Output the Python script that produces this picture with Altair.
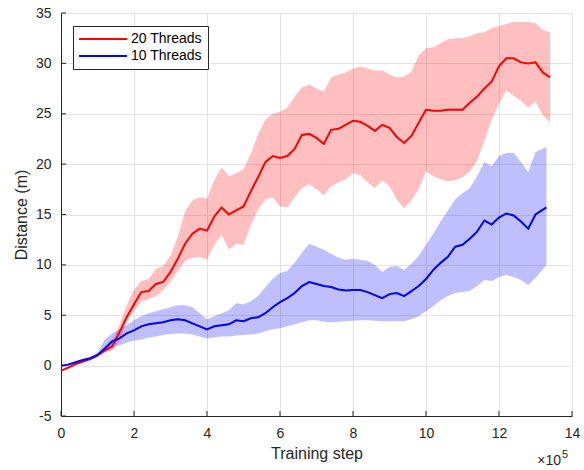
import altair as alt
import pandas as pd

# ---------------- data (x in units of 1e5 training steps) ----------------
steps_red = [0.0, 0.2, 0.4, 0.6, 0.8, 1.0, 1.2, 1.4, 1.6, 1.8,
             2.0, 2.2, 2.4, 2.6, 2.8, 3.0, 3.2, 3.4, 3.6, 3.8,
             4.0, 4.2, 4.4, 4.6, 4.8, 5.0, 5.2, 5.4, 5.6, 5.8,
             6.0, 6.2, 6.4, 6.6, 6.8, 7.0, 7.2, 7.4, 7.6, 7.8,
             8.0, 8.2, 8.4, 8.6, 8.8, 9.0, 9.2, 9.4, 9.6, 9.8,
             10.0, 10.2, 10.4, 10.6, 10.8, 11.0, 11.2, 11.4, 11.6, 11.8,
             12.0, 12.2, 12.4, 12.6, 12.8, 13.0, 13.2, 13.4]
red_mean = [-0.5, -0.2, 0.15, 0.4, 0.65, 1.0, 1.5, 1.9, 3.3, 4.8,
            6.1, 7.3, 7.4, 8.1, 8.3, 9.3, 10.6, 12.1, 13.1, 13.6,
            13.4, 14.8, 15.7, 15.0, 15.4, 15.8, 17.3, 18.7, 20.2, 20.8,
            20.6, 20.8, 21.5, 22.9, 23.0, 22.6, 22.0, 23.4, 23.5, 23.9,
            24.3, 24.2, 23.8, 23.3, 23.9, 23.6, 22.7, 22.1, 22.8, 24.1,
            25.4, 25.3, 25.3, 25.4, 25.4, 25.4, 26.1, 26.7, 27.5, 28.2,
            29.7, 30.5, 30.5, 30.1, 30.0, 30.1, 29.1, 28.6]
red_lo = [-0.6, -0.3, 0.05, 0.3, 0.55, 0.9, 1.3, 1.5, 2.5, 4.3,
          5.4, 6.4, 6.6, 6.9, 7.5, 8.3, 9.4, 10.4, 10.7, 10.8,
          10.5, 12.0, 13.0, 11.5, 12.1, 12.0, 13.9, 15.5, 16.5, 16.7,
          15.8, 15.7, 16.7, 17.6, 18.0, 17.5, 16.9, 17.8, 18.2, 18.5,
          19.1, 18.9, 18.2, 17.6, 18.4, 17.8, 16.5, 15.6, 16.4, 17.5,
          19.3, 18.8, 18.5, 18.3, 18.4, 18.7, 19.3, 20.3, 22.3, 24.4,
          26.0, 27.3, 26.8, 26.3, 25.6, 26.2, 24.9, 24.1]
red_hi = [-0.4, -0.1, 0.25, 0.5, 0.75, 1.1, 1.7, 2.4, 4.0, 6.0,
          7.5, 8.4, 8.6, 9.6, 9.9, 10.9, 12.8, 15.3, 16.4, 16.7,
          16.6, 18.4, 19.7, 18.8, 19.1, 19.5, 21.0, 23.0, 24.4, 25.0,
          25.2, 25.6, 26.7, 27.6, 27.9, 27.5, 27.2, 28.6, 28.9, 29.1,
          29.5, 29.7, 29.5, 29.3, 29.3, 28.9, 28.6, 28.7, 29.2, 30.8,
          31.5, 31.6, 32.0, 32.4, 32.5, 32.5, 32.7, 33.0, 33.1, 33.5,
          33.7, 33.9, 34.1, 34.1, 34.1, 34.0, 33.3, 33.1]

steps_blue = [0.0, 0.2, 0.4, 0.6, 0.8, 1.0, 1.2, 1.4, 1.6, 1.8,
              2.0, 2.2, 2.4, 2.6, 2.8, 3.0, 3.2, 3.4, 3.6, 3.8,
              4.0, 4.2, 4.4, 4.6, 4.8, 5.0, 5.2, 5.4, 5.6, 5.8,
              6.0, 6.2, 6.4, 6.6, 6.8, 7.0, 7.2, 7.4, 7.6, 7.8,
              8.0, 8.2, 8.4, 8.6, 8.8, 9.0, 9.2, 9.4, 9.6, 9.8,
              10.0, 10.2, 10.4, 10.6, 10.8, 11.0, 11.2, 11.4, 11.6, 11.8,
              12.0, 12.2, 12.4, 12.6, 12.8, 13.0, 13.3]
blue_mean = [0.0, 0.1, 0.33, 0.56, 0.73, 1.06, 1.7, 2.4, 2.7, 3.2,
             3.5, 3.9, 4.1, 4.2, 4.3, 4.5, 4.6, 4.5, 4.2, 3.9,
             3.6, 3.9, 4.0, 4.1, 4.5, 4.4, 4.7, 4.8, 5.2, 5.8,
             6.3, 6.7, 7.2, 7.9, 8.3, 8.1, 7.9, 7.8, 7.55, 7.45,
             7.5, 7.5, 7.3, 7.0, 6.7, 7.1, 7.2, 6.9, 7.4, 7.9,
             8.6, 9.5, 10.2, 10.8, 11.8, 12.0, 12.6, 13.3, 14.4, 14.0,
             14.7, 15.1, 14.9, 14.3, 13.6, 15.0, 15.7]
blue_lo = [-0.1, 0.0, 0.23, 0.46, 0.63, 0.9, 1.5, 1.8, 2.0, 2.3,
           2.5, 2.6, 2.8, 2.9, 3.05, 3.15, 3.2, 3.2, 3.1, 2.9,
           2.7, 2.8, 2.9, 2.9, 3.0, 3.05, 3.1, 3.2, 3.4, 3.6,
           3.7, 3.9, 4.1, 4.3, 4.5, 4.5, 4.35, 4.3, 4.35, 4.4,
           4.45, 4.5, 4.5, 4.45, 4.4, 4.4, 4.4, 4.4, 4.6, 4.9,
           5.4, 5.9, 6.5, 6.9, 7.2, 7.3, 7.4, 7.9, 8.5, 8.4,
           8.8, 9.0, 8.8, 8.5, 8.0, 8.7, 10.0]
blue_hi = [0.1, 0.2, 0.43, 0.66, 0.83, 1.3, 2.6, 3.2, 3.6, 4.0,
           4.5, 4.9, 5.2, 5.4, 5.6, 5.8, 6.0, 6.0, 5.8, 5.2,
           4.6, 4.9, 5.2, 5.5, 6.2, 6.1, 6.4, 6.9, 7.8, 8.6,
           9.2, 9.4, 10.2, 11.2, 12.1, 11.8, 11.5, 11.1, 10.7, 10.5,
           10.6, 10.5, 10.4, 10.0, 9.3, 9.8, 9.9, 9.5, 10.1, 10.9,
           12.0, 13.1, 14.3, 15.4, 16.5, 17.1, 17.6, 18.8, 20.2, 19.8,
           20.8, 21.1, 21.1, 20.2, 19.2, 21.2, 21.7]

series_names = ["20 Threads", "10 Threads"]
series_colors = ["#ff0000", "#0000ff"]
x_ticks = [0, 2, 4, 6, 8, 10, 12, 14]
y_ticks = [-5, 0, 5, 10, 15, 20, 25, 30, 35]

# ---------------- tables ----------------
df = pd.concat([
    pd.DataFrame({"step": steps_red, "mean": red_mean, "lo": red_lo,
                  "hi": red_hi, "series": series_names[0],
                  "band": "b" + series_names[0]}),
    pd.DataFrame({"step": steps_blue, "mean": blue_mean, "lo": blue_lo,
                  "hi": blue_hi, "series": series_names[1],
                  "band": "b" + series_names[1]}),
], ignore_index=True)
xt_df = pd.DataFrame({"v": x_ticks})
yt_df = pd.DataFrame({"v": y_ticks})
one = pd.DataFrame({"a": [0]})

W, H = 511, 403
FONT = "Liberation Sans"
DARK = "#262626"

xs = alt.Scale(domain=[0, 14], nice=False, zero=False)
ys = alt.Scale(domain=[-5, 35], nice=False, zero=False)
cscale = alt.Scale(domain=series_names, range=series_colors)
bscale = alt.Scale(domain=["b" + s for s in series_names], range=series_colors)

xaxis = alt.Axis(values=x_ticks, title="Training step", ticks=False,
                 labelFontSize=14, labelFont=FONT, labelColor=DARK,
                 labelPadding=10, titleFontSize=16, titleFont=FONT,
                 titleFontWeight="normal", titleColor=DARK, titlePadding=5,
                 domainColor=DARK, grid=True, gridColor="#e3e3e3",
                 labelFlush=False)
yaxis = alt.Axis(values=y_ticks, title="Distance (m)", ticks=False,
                 labelFontSize=14, labelFont=FONT, labelColor=DARK,
                 labelPadding=10, labelExpr="'' + datum.value",
                 titleFontSize=16, titleFont=FONT, titleFontWeight="normal",
                 titleColor=DARK, titlePadding=6, domainColor=DARK,
                 grid=True, gridColor="#e3e3e3", labelFlush=False)

X = alt.X("step:Q", scale=xs, axis=xaxis)

bands = alt.Chart(df).mark_area(fillOpacity=0.25).encode(
    x=X,
    y=alt.Y("lo:Q", scale=ys, axis=yaxis),
    y2="hi:Q",
    fill=alt.Fill("band:N", scale=bscale, legend=None),
)

lines = alt.Chart(df).mark_line(strokeWidth=2).encode(
    x=X,
    y=alt.Y("mean:Q", scale=ys, axis=yaxis),
    stroke=alt.Stroke("series:N", scale=cscale, sort=series_names,
                      legend=alt.Legend(
                          orient="none", legendX=12, legendY=13, title=None,
                          symbolType="M-4,0H4", symbolSize=144,
                          symbolOffset=17,
                          symbolStrokeWidth=2, labelFontSize=14,
                          labelFont=FONT, labelColor="#000000",
                          labelOffset=21, padding=6, rowPadding=3,
                          fillColor="#ffffff", strokeColor=DARK)),
)

xticks = alt.Chart(xt_df).mark_rule(color=DARK, strokeWidth=1).encode(
    x=alt.X("v:Q", scale=xs, axis=xaxis),
    y=alt.value(H), y2=alt.value(H - 5),
)
yticks = alt.Chart(yt_df).mark_rule(color=DARK, strokeWidth=1).encode(
    y=alt.Y("v:Q", scale=ys, axis=yaxis),
    x=alt.value(0), x2=alt.value(5),
)

exp_base = alt.Chart(one).mark_text(font=FONT, fontSize=14, color=DARK,
                                    align="right", baseline="alphabetic").encode(
    x=alt.value(500), y=alt.value(452), text=alt.value("×10"))
exp_pow = alt.Chart(one).mark_text(font=FONT, fontSize=11, color=DARK,
                                   align="left", baseline="alphabetic").encode(
    x=alt.value(501), y=alt.value(445), text=alt.value("5"))

chart = alt.layer(bands, lines, xticks, yticks, exp_base, exp_pow).properties(
    width=W, height=H,
    padding={"left": 61, "top": 13, "right": 12, "bottom": 54},
    autosize=alt.AutoSizeParams(type="none"),
).configure_view(stroke="#d5d5d5", strokeWidth=1).configure(background="white")

chart.save("out.html", embed_options={"renderer": "svg", "actions": False})
